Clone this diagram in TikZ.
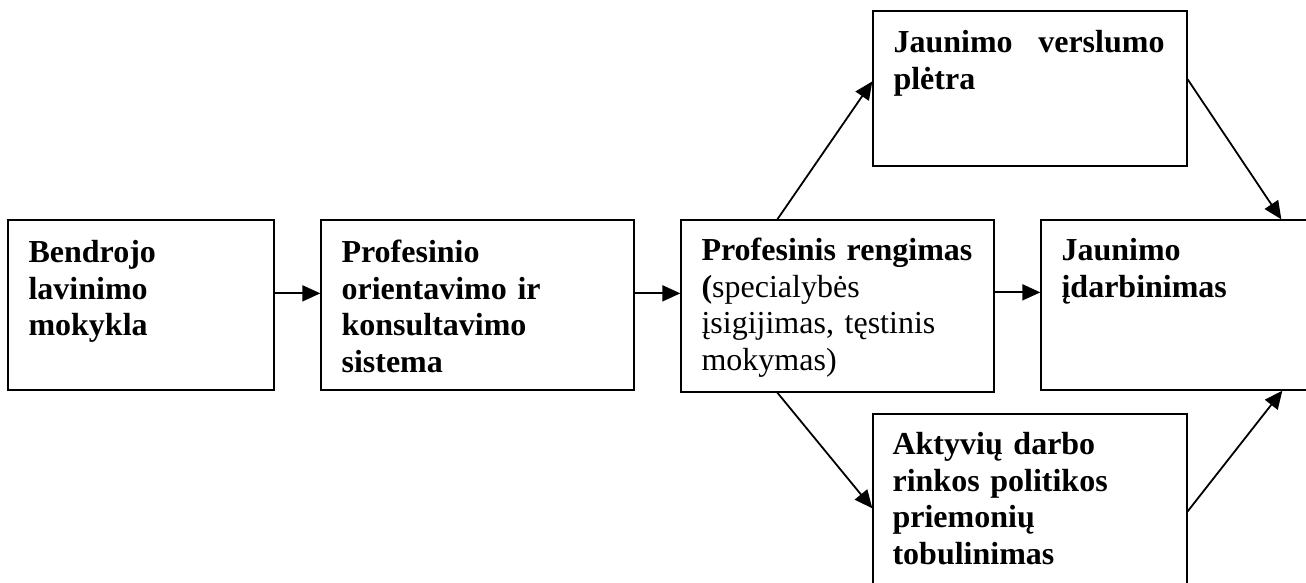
\documentclass[tikz,border=0pt]{standalone}
\usepackage{fontspec}
\setmainfont{Liberation Serif}
\usetikzlibrary{arrows.meta}
\begin{document}
\begin{tikzpicture}[x=1pt,y=-1pt,
  box/.style={draw=black,line width=1.3pt,inner sep=0pt,minimum width=#1},
  txt/.style={anchor=base west,inner sep=0pt,text width=290pt,align=left,
    font=\fontsize{32}{36.7}\selectfont\bfseries},
  arr/.style={line width=1.8pt,-{Triangle[length=18pt,width=16pt]}}]
\useasboundingbox (0,0) rectangle (1306,583);
\fill[white] (0,0) rectangle (1306,583);
\clip (0,0) rectangle (1306,583);
% boxes
\node[box=266pt,minimum height=170pt] (b1) at (141,305) {};
\node[box=313pt,minimum height=170pt] (b2) at (477.5,305) {};
\node[box=313pt,minimum height=172pt] (b3) at (837.5,306) {};
\node[box=299pt,minimum height=170pt] (b4) at (1190.5,305) {};
\node[box=314pt,minimum height=155pt] (b5) at (1030,88.5) {};
\node[box=314pt,minimum height=196pt] (b6) at (1030,512) {};
% texts
\node[txt] (t1) at ([shift={(21pt,-43pt)}]b1.north west) {Bendrojo\\lavinimo\\mokykla};
\node[txt] (t2) at ([shift={(21pt,-43pt)}]b2.north west) {Profesinio\\orientavimo ir\\konsultavimo\\sistema};
\node[txt] (t3) at ([shift={(21pt,-41pt)}]b3.north west) {Profesinis rengimas\\({\mdseries specialybės}\\\mdseries įsigijimas, tęstinis\\mokymas)};
\node[txt] (t4) at ([shift={(21pt,-41pt)}]b4.north west) {Jaunimo\\įdarbinimas};
\node[txt] (t5) at ([shift={(21pt,-42pt)}]b5.north west) {\makebox[271pt][s]{Jaunimo\hfill verslumo}\\plėtra};
\node[txt] (t6) at ([shift={(20pt,-41pt)}]b6.north west) {Aktyvių darbo\\rinkos politikos\\priemonių\\tobulinimas};
% connectors
\draw[arr] ([yshift=-74pt]b1.north east) -- ([yshift=-74pt]b2.north west);
\draw[arr] ([yshift=-74pt]b2.north east) -- ([yshift=-74pt]b3.north west);
\draw[arr] ([yshift=-73pt]b3.north east) -- ([yshift=-73pt]b4.north west);
\draw[arr] ([xshift=97pt]b3.north west) -- ([yshift=-71pt]b5.north west);
\draw[arr] ([xshift=97pt]b3.south west) -- ([yshift=-95pt]b6.north west);
\draw[arr] ([yshift=-69pt]b5.north east) -- ([xshift=241pt]b4.north west);
\draw[arr] ([yshift=-98pt]b6.north east) -- ([xshift=242pt]b4.south west);
\end{tikzpicture}
\end{document}
